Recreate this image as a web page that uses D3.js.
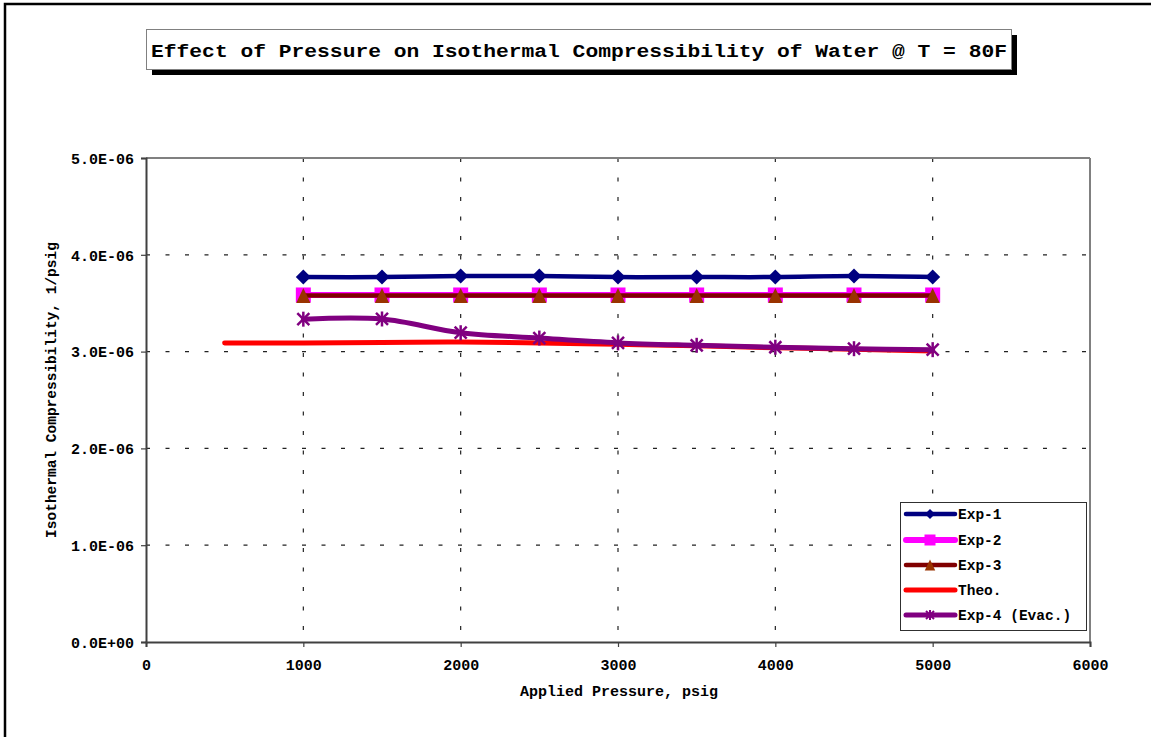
<!DOCTYPE html>
<html>
<head>
<meta charset="utf-8">
<script src="https://cdn.jsdelivr.net/npm/d3@7"></script>
<style>
  html, body { margin: 0; padding: 0; background: #fff; }
  svg { display: block; }
  text { font-family: "Courier New", "Nimbus Mono PS", "Nimbus Mono L", "FreeMono", "Liberation Mono", monospace; font-weight: bold; fill: #000; }
</style>
</head>
<body>
<svg id="chart" width="1151" height="737"></svg>
<script>
// Applied pressure (psig) for the measured series
const pressure = [1000, 1500, 2000, 2500, 3000, 3500, 4000, 4500, 5000];
// Theoretical curve starts at 500 psig
const pressureTheo = [500, 1000, 1500, 2000, 2500, 3000, 3500, 4000, 4500, 5000];

// Isothermal compressibility, 1/psig
const exp1 = [3.77e-6, 3.77e-6, 3.78e-6, 3.78e-6, 3.77e-6, 3.77e-6, 3.77e-6, 3.78e-6, 3.77e-6];
const exp2 = [3.585e-6, 3.585e-6, 3.585e-6, 3.585e-6, 3.585e-6, 3.585e-6, 3.585e-6, 3.585e-6, 3.585e-6];
const exp3 = [3.58e-6, 3.58e-6, 3.58e-6, 3.58e-6, 3.58e-6, 3.58e-6, 3.58e-6, 3.58e-6, 3.58e-6];
const theo = [3.09e-6, 3.09e-6, 3.095e-6, 3.10e-6, 3.09e-6, 3.075e-6, 3.06e-6, 3.04e-6, 3.025e-6, 3.005e-6];
const exp4 = [3.335e-6, 3.337e-6, 3.195e-6, 3.14e-6, 3.09e-6, 3.065e-6, 3.045e-6, 3.03e-6, 3.02e-6];

const xTicks = [0, 1000, 2000, 3000, 4000, 5000, 6000];
const yTicks = [0, 1e-6, 2e-6, 3e-6, 4e-6, 5e-6];

const titleText = "Effect of Pressure on Isothermal Compressibility of Water @ T = 80F";
const xTitle = "Applied Pressure, psig";
const yTitle = "Isothermal Compressibility, 1/psig";

const svg = d3.select("#chart");

// outer chart frame (runs off the right and bottom edges)
svg.append("rect").attr("x", 5).attr("y", 4).attr("width", 1160).attr("height", 750)
  .attr("fill", "none").attr("stroke", "#000").attr("stroke-width", 2.5);

const plot = { left: 146, right: 1090, top: 158, bottom: 642 };
const x = d3.scaleLinear().domain([0, 6000]).range([plot.left, plot.right]);
const y = d3.scaleLinear().domain([0, 5e-6]).range([plot.bottom, plot.top]);

// gridlines
const grid = svg.append("g").attr("stroke", "#222").attr("stroke-width", 1.2)
  .attr("stroke-dasharray", "4,15.5");
xTicks.filter(d => d > 0 && d < 6000).forEach(d => {
  grid.append("line").attr("x1", x(d)).attr("x2", x(d)).attr("y1", plot.top).attr("y2", plot.bottom);
});
yTicks.filter(d => d > 0 && d < 5e-6).forEach(d => {
  grid.append("line").attr("x1", plot.left).attr("x2", plot.right).attr("y1", y(d)).attr("y2", y(d));
});

// plot frame: grey top and right, dark axes
svg.append("line").attr("x1", plot.left).attr("x2", plot.right).attr("y1", plot.top).attr("y2", plot.top)
  .attr("stroke", "#808080").attr("stroke-width", 2);
svg.append("line").attr("x1", plot.right).attr("x2", plot.right).attr("y1", plot.top).attr("y2", plot.bottom)
  .attr("stroke", "#808080").attr("stroke-width", 2);

const fmtY = d => d === 0 ? "0.0E+00" : (d / 1e-6).toFixed(1) + "E-06";
const monoFamily = '"Courier New", "Nimbus Mono PS", "Nimbus Mono L", "FreeMono", "Liberation Mono", monospace';

const yAxis = svg.append("g").attr("transform", `translate(${plot.left},0)`)
  .call(d3.axisLeft(y).tickValues(yTicks).tickFormat(fmtY).tickSize(5).tickPadding(7));
yAxis.selectAll("text").style("font-size", "15px").attr("dy", "0.35em");
const xAxis = svg.append("g").attr("transform", `translate(0,${plot.bottom})`)
  .call(d3.axisBottom(x).tickValues(xTicks).tickFormat(d3.format("d")).tickSize(5).tickPadding(12));
xAxis.selectAll("text").style("font-size", "15px");
[yAxis, xAxis].forEach(a => {
  a.select(".domain").attr("stroke", "#404040").attr("stroke-width", 2);
  a.selectAll(".tick line").attr("stroke", "#404040").attr("stroke-width", 1.2);
  a.selectAll("text").attr("fill", "#000").style("font-family", monoFamily).style("font-weight", "bold");
});

// axis titles
svg.append("text").attr("x", (plot.left + plot.right) / 2 + 1).attr("y", 696)
  .attr("text-anchor", "middle").style("font-size", "15px").text(xTitle);
svg.append("text").attr("transform", "translate(56,390) rotate(-90)")
  .attr("text-anchor", "middle").style("font-size", "14.5px").text(yTitle);

// title box with drop shadow
svg.append("rect").attr("x", 152).attr("y", 35).attr("width", 865).attr("height", 40).attr("fill", "#000");
svg.append("rect").attr("x", 146.5).attr("y", 29.5).attr("width", 865).attr("height", 40)
  .attr("fill", "#fff").attr("stroke", "#808080").attr("stroke-width", 1);
svg.append("text").attr("x", 579).attr("y", 56.5).attr("text-anchor", "middle")
  .attr("textLength", 856).attr("lengthAdjust", "spacingAndGlyphs")
  .style("font-size", "19px").text(titleText);

// marker shapes
const markers = {
  diamond: (g, r, c) => g.append("path").attr("d", `M0,${-r}L${r},0L0,${r}L${-r},0Z`).attr("fill", c),
  square: (g, r, c) => g.append("rect").attr("x", -r).attr("y", -r).attr("width", 2 * r).attr("height", 2 * r).attr("fill", c),
  triangle: (g, r, c) => g.append("path").attr("d", `M0,${-r}L${r * 0.95},${r}L${-r * 0.95},${r}Z`).attr("fill", c),
  star: (g, r, c, w) => {
    const s = g.append("g").attr("stroke", c).attr("stroke-width", w).attr("stroke-linecap", "butt");
    s.append("line").attr("x1", 0).attr("x2", 0).attr("y1", -r).attr("y2", r);
    s.append("line").attr("x1", -r * 0.8).attr("x2", r * 0.8).attr("y1", -r * 0.8).attr("y2", r * 0.8);
    s.append("line").attr("x1", -r * 0.8).attr("x2", r * 0.8).attr("y1", r * 0.8).attr("y2", -r * 0.8);
    return s;
  }
};

const series = [
  { name: "Exp-1", xs: pressure, ys: exp1, line: "#000080", width: 4.5, marker: "diamond", mcolor: "#000080", r: 7.5, lr: 5 },
  { name: "Exp-2", xs: pressure, ys: exp2, line: "#FF00FF", width: 6, marker: "square", mcolor: "#FF00FF", r: 7.5, lr: 5.5 },
  { name: "Exp-3", xs: pressure, ys: exp3, line: "#800000", width: 4.5, marker: "triangle", mcolor: "#993300", r: 7.5, lr: 5.5 },
  { name: "Theo.", xs: pressureTheo, ys: theo, line: "#FF0000", width: 5, marker: null },
  { name: "Exp-4 (Evac.)", xs: pressure, ys: exp4, line: "#800080", width: 5, marker: "star", mcolor: "#800080", r: 7.5, lr: 5 }
];

const lineGen = d3.line().x(d => x(d[0])).y(d => y(d[1])).curve(d3.curveCatmullRom.alpha(0));

series.forEach(s => {
  const pts = s.xs.map((p, i) => [p, s.ys[i]]);
  const g = svg.append("g");
  g.append("path").attr("d", lineGen(pts)).attr("fill", "none")
    .attr("stroke", s.line).attr("stroke-width", s.width).attr("stroke-linecap", "round").attr("stroke-linejoin", "round");
  if (s.marker) {
    pts.forEach(p => {
      const m = g.append("g").attr("transform", `translate(${x(p[0])},${y(p[1])})`);
      markers[s.marker](m, s.r, s.mcolor, 2.5);
    });
  }
});

// legend
const legend = svg.append("g");
legend.append("rect").attr("x", 900.5).attr("y", 502.5).attr("width", 186).attr("height", 128)
  .attr("fill", "#fff").attr("stroke", "#303030").attr("stroke-width", 1);
const rowY = [514, 540, 565, 590, 615];
series.forEach((s, i) => {
  const ly = rowY[i];
  legend.append("line").attr("x1", 906).attr("x2", 955).attr("y1", ly).attr("y2", ly)
    .attr("stroke", s.line).attr("stroke-width", s.width).attr("stroke-linecap", "round");
  if (s.marker) {
    const m = legend.append("g").attr("transform", `translate(930,${ly})`);
    markers[s.marker](m, s.lr, s.mcolor, 2);
  }
  legend.append("text").attr("x", 958).attr("y", ly + 5).style("font-size", "14.5px").text(s.name);
});
</script>
</body>
</html>
